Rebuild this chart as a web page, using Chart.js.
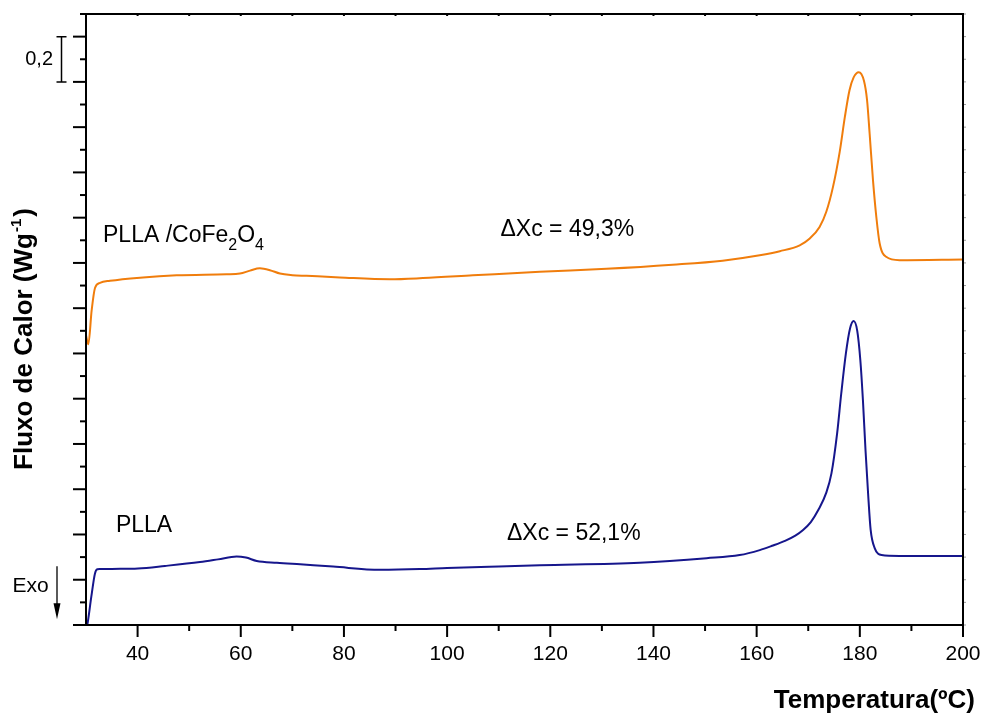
<!DOCTYPE html>
<html>
<head>
<meta charset="utf-8">
<script src="https://cdn.jsdelivr.net/npm/chart.js@4/dist/chart.umd.min.js"></script>
<style>
  html, body { margin: 0; padding: 0; background: #fff; }
  canvas { display: block; }
</style>
</head>
<body>
<canvas id="dsc" width="984" height="713"></canvas>
<script>
// DSC heating scans: temperature (°C) against heat flow (W/g, curves offset)
const tempPLLA = [30.0, 30.25, 31.03, 31.74, 32.19, 32.71, 35.0, 40.08, 45.3, 52.1, 55.6, 59.2, 61.0, 63.1, 67.0, 71.5, 77.9, 87.0, 94.7, 100.0, 110.0, 118.0, 137.3, 150.3, 156.7, 160.6, 163.0, 165.5, 167.5, 169.0, 170.5, 172.0, 173.5, 174.5, 175.6, 176.4, 177.3, 178.1, 178.8, 179.5, 180.1, 180.6, 181.1, 181.6, 182.1, 182.9, 184.2, 187.7, 200.0];
const fluxPLLA = [-0.02, 0.0, 0.125, 0.228, 0.246, 0.247, 0.248, 0.250, 0.261, 0.278, 0.290, 0.303, 0.298, 0.283, 0.275, 0.268, 0.258, 0.244, 0.247, 0.252, 0.259, 0.264, 0.275, 0.295, 0.309, 0.331, 0.350, 0.372, 0.395, 0.420, 0.455, 0.510, 0.585, 0.670, 0.847, 1.023, 1.200, 1.310, 1.343, 1.300, 1.170, 0.994, 0.773, 0.582, 0.420, 0.339, 0.309, 0.305, 0.305];

const tempComposite = [30.0, 30.45, 31.1, 31.74, 32.71, 34.65, 41.04, 47.57, 57.26, 59.84, 61.8, 63.71, 65.65, 67.59, 70.0, 72.76, 79.21, 88.9, 95.3, 104.99, 117.97, 130.9, 143.7, 153.4, 160.6, 164.5, 168.35, 170.3, 172.2, 173.5, 174.8, 176.1, 177.1, 178.0, 178.8, 179.8, 180.8, 181.4, 181.9, 182.55, 183.2, 183.85, 185.1, 187.7, 200.0];
const fluxComposite = [1.28, 1.241, 1.391, 1.489, 1.512, 1.521, 1.536, 1.545, 1.550, 1.553, 1.566, 1.576, 1.568, 1.553, 1.546, 1.543, 1.536, 1.528, 1.533, 1.545, 1.561, 1.574, 1.592, 1.610, 1.634, 1.652, 1.678, 1.708, 1.759, 1.826, 1.936, 2.091, 2.245, 2.363, 2.420, 2.443, 2.405, 2.320, 2.172, 1.966, 1.803, 1.686, 1.627, 1.612, 1.615];

const xTickLabels = ['40', '60', '80', '100', '120', '140', '160', '180', '200'];
const crystallinityLabels = ['ΔXc = 52,1%', 'ΔXc = 49,3%'];
const scaleBarValue = 0.2;
const scaleBarLabel = '0,2';

const FONT = "'Liberation Sans', Arial, Helvetica, sans-serif";
const toPoints = (xs, ys) => xs.map((x, i) => ({ x: x, y: ys[i] }));

// Frame, tick marks, titles and in-plot annotations
const decorations = {
  id: 'decorations',
  beforeDraw(chart) {
    const ctx = chart.ctx;
    ctx.save();
    ctx.fillStyle = '#ffffff';
    ctx.fillRect(0, 0, chart.width, chart.height);
    ctx.restore();
  },
  afterDraw(chart) {
    const ctx = chart.ctx;
    const a = chart.chartArea;
    const xs = chart.scales.x, ys = chart.scales.y;
    ctx.save();
    ctx.strokeStyle = '#000';
    ctx.fillStyle = '#000';

    // left-axis ticks: long every 0.2, short in between
    ctx.lineWidth = 2;
    ys.ticks.forEach(t => {
      const p = ys.getPixelForValue(t.value);
      const major = Math.round(t.value * 10) % 2 === 0;
      const len = major ? 13 : 6;
      ctx.beginPath();
      ctx.moveTo(a.left - len, p);
      ctx.lineTo(a.left, p);
      ctx.stroke();
    });
    // bottom-axis ticks
    xs.ticks.forEach(t => {
      if (t.value <= xs.min) return;
      const p = xs.getPixelForValue(t.value);
      const major = t.value % 20 === 0;
      const len = major ? 12 : 6;
      ctx.beginPath();
      ctx.moveTo(p, a.bottom);
      ctx.lineTo(p, a.bottom + len);
      ctx.stroke();
      // small inner marks on the top edge
      ctx.beginPath();
      ctx.moveTo(p, a.top);
      ctx.lineTo(p, a.top + 2);
      ctx.stroke();
    });
    // faint marks on the right edge
    ctx.save();
    ctx.strokeStyle = '#999';
    ctx.lineWidth = 1;
    ys.ticks.forEach(t => {
      const p = ys.getPixelForValue(t.value);
      ctx.beginPath();
      ctx.moveTo(a.right, p);
      ctx.lineTo(a.right + 3, p);
      ctx.stroke();
    });
    ctx.restore();

    // plot frame
    ctx.lineWidth = 2;
    ctx.strokeRect(a.left, a.top, a.right - a.left, a.bottom - a.top);

    // x-axis title
    ctx.font = 'bold 26px ' + FONT;
    ctx.textAlign = 'right';
    ctx.textBaseline = 'alphabetic';
    ctx.fillText('Temperatura(ºC)', 975, 708);

    // y-axis title, rotated, with superscript unit
    ctx.save();
    ctx.translate(32, 339);
    ctx.rotate(-Math.PI / 2);
    const mainA = 'Fluxo de Calor (Wg';
    const sup = '-1';
    const mainB = ')';
    ctx.font = 'bold 26px ' + FONT;
    const wA = ctx.measureText(mainA).width;
    const wB = ctx.measureText(mainB).width;
    ctx.font = 'bold 15px ' + FONT;
    const wS = ctx.measureText(sup).width;
    let cx = -(wA + wS + 3 + wB) / 2;
    ctx.textAlign = 'left';
    ctx.font = 'bold 26px ' + FONT;
    ctx.fillText(mainA, cx, 0);
    cx += wA + 1;
    ctx.font = 'bold 15px ' + FONT;
    ctx.fillText(sup, cx, -11);
    cx += wS + 2;
    ctx.font = 'bold 26px ' + FONT;
    ctx.fillText(mainB, cx, 0);
    ctx.restore();

    // curve labels
    ctx.textAlign = 'left';
    let px = xs.getPixelForValue(33.3);
    const py = ys.getPixelForValue(1.693);
    const parts = [['PLLA /CoFe', 0, 23], ['2', 8, 16], ['O', 0, 23], ['4', 8, 16]];
    parts.forEach(([txt, dy, size]) => {
      ctx.font = size + 'px ' + FONT;
      ctx.fillText(txt, px, py + dy);
      px += ctx.measureText(txt).width;
    });
    ctx.font = '23px ' + FONT;
    ctx.fillText('PLLA', xs.getPixelForValue(35.8), ys.getPixelForValue(0.411));
    ctx.fillText(crystallinityLabels[1], xs.getPixelForValue(110.35), ys.getPixelForValue(1.718));
    ctx.fillText(crystallinityLabels[0], xs.getPixelForValue(111.6), ys.getPixelForValue(0.375));

    // exothermic direction marker
    ctx.font = '21px ' + FONT;
    ctx.fillText('Exo', 12.5, 591.5);
    const ax = a.left - 29;
    const yTop = ys.getPixelForValue(0.26);
    const yTip = ys.getPixelForValue(0.025);
    ctx.lineWidth = 1.3;
    ctx.beginPath();
    ctx.moveTo(ax, yTop);
    ctx.lineTo(ax, yTip - 14);
    ctx.stroke();
    ctx.beginPath();
    ctx.moveTo(ax - 3.5, yTip - 16);
    ctx.lineTo(ax + 3.5, yTip - 16);
    ctx.lineTo(ax, yTip);
    ctx.closePath();
    ctx.fill();

    // scale bar for heat flow
    const bx = a.left - 24.5;
    const b1 = ys.getPixelForValue(2.6);
    const b2 = ys.getPixelForValue(2.6 - scaleBarValue);
    ctx.lineWidth = 1.5;
    ctx.beginPath();
    ctx.moveTo(bx, b1); ctx.lineTo(bx, b2);
    ctx.moveTo(bx - 5, b1); ctx.lineTo(bx + 5, b1);
    ctx.moveTo(bx - 5, b2); ctx.lineTo(bx + 5, b2);
    ctx.stroke();
    ctx.font = '20px ' + FONT;
    ctx.textAlign = 'right';
    ctx.fillText(scaleBarLabel, 53, 65);

    ctx.restore();
  }
};

new Chart(document.getElementById('dsc'), {
  type: 'line',
  data: {
    datasets: [
      {
        label: 'PLLA',
        data: toPoints(tempPLLA, fluxPLLA),
        borderColor: '#16168c',
        borderWidth: 2,
        pointRadius: 0,
        fill: false,
        cubicInterpolationMode: 'monotone'
      },
      {
        label: 'PLLA /CoFe2O4',
        data: toPoints(tempComposite, fluxComposite),
        borderColor: '#f07d0c',
        borderWidth: 2,
        pointRadius: 0,
        fill: false,
        cubicInterpolationMode: 'monotone'
      }
    ]
  },
  options: {
    responsive: false,
    animation: false,
    devicePixelRatio: 1,
    layout: { padding: { top: 14, right: 21, bottom: 0, left: 0 } },
    plugins: { legend: { display: false }, tooltip: { enabled: false } },
    scales: {
      x: {
        type: 'linear',
        min: 30,
        max: 200,
        grid: { display: false, drawTicks: false },
        border: { display: false },
        ticks: {
          stepSize: 10,
          autoSkip: false,
          maxRotation: 0,
          padding: 17,
          color: '#000',
          font: { family: FONT, size: 21 },
          callback: v => (xTickLabels.includes(String(v)) ? String(v) : '')
        },
        afterFit: s => { s.height = 88; s.paddingLeft = 0; s.paddingRight = 0; }
      },
      y: {
        type: 'linear',
        min: 0,
        max: 2.7,
        grid: { display: false, drawTicks: false },
        border: { display: false },
        ticks: { stepSize: 0.1, display: false },
        afterFit: s => { s.width = 86; s.paddingTop = 0; s.paddingBottom = 0; }
      }
    }
  },
  plugins: [decorations]
});
</script>
</body>
</html>
